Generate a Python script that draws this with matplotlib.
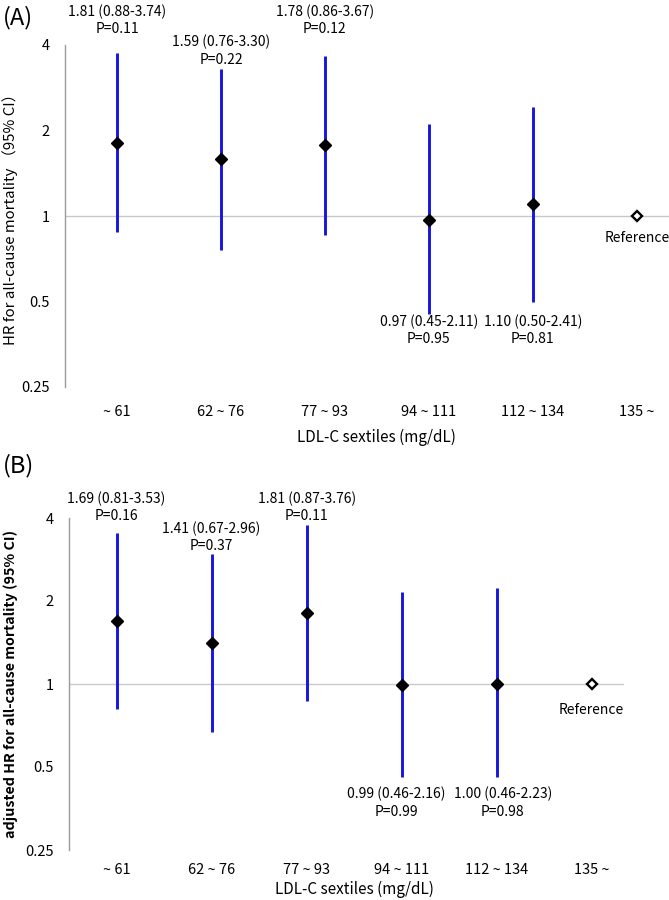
import matplotlib
matplotlib.use("Agg")
import matplotlib.pyplot as plt
import numpy as np

plt.rcParams['font.family'] = ['Noto Sans CJK JP', 'DejaVu Sans']

categories = ["~ 61", "62 ~ 76", "77 ~ 93", "94 ~ 111", "112 ~ 134", "135 ~"]

# Panel A: crude HR
hr_a = [1.81, 1.59, 1.78, 0.97, 1.10]
lo_a = [0.88, 0.76, 0.86, 0.45, 0.50]
hi_a = [3.74, 3.30, 3.67, 2.11, 2.41]
p_a = ["0.11", "0.22", "0.12", "0.95", "0.81"]

# Panel B: adjusted HR
hr_b = [1.69, 1.41, 1.81, 0.99, 1.00]
lo_b = [0.81, 0.67, 0.87, 0.46, 0.46]
hi_b = [3.53, 2.96, 3.76, 2.16, 2.23]
p_b = ["0.16", "0.37", "0.11", "0.99", "0.98"]

ref_value = 1.0
yticks = [0.25, 0.5, 1, 2, 4]
ytick_labels = ["0.25", "0.5", "1", "2", "4"]

# label placement style: 'top' row, 'near' the whisker, or 'below' row
label_rows = ['top', 'near', 'top', 'below', 'below']

W, H = 669, 900
fig = plt.figure(figsize=(W / 100, H / 100), dpi=100)

blue = "#1616dc"
txt_fs = 10


def panel(box, xlim, hr, lo, hi, pv, ylabel, ylabel_weight, letter, letter_top,
          top_row_px, near_gap, below_gap, ref_gap, xpad, xlabel_gap, nudges):
    left, right, top, bot = box
    ax = fig.add_axes([left / W, 1 - bot / H, (right - left) / W, (bot - top) / H])
    ax.set_yscale('log')
    ax.set_ylim(0.25, 4)
    ax.set_xlim(*xlim)
    for s in ['top', 'right', 'bottom']:
        ax.spines[s].set_visible(False)
    ax.spines['left'].set_color('#9a9a9a')
    ax.spines['left'].set_linewidth(1.0)
    ax.set_yticks(yticks)
    ax.set_yticklabels(ytick_labels, fontsize=10.5)
    ax.yaxis.set_minor_locator(matplotlib.ticker.NullLocator())
    ax.tick_params(axis='y', length=0, pad=11)
    ax.set_xticks(range(len(categories)))
    ax.set_xticklabels(categories, fontsize=10.5)
    ax.tick_params(axis='x', length=0, pad=xpad)
    ax.axhline(ref_value, color='#c8c8c8', lw=1.0, zorder=1)
    ax.set_ylabel(ylabel, fontsize=10.8 if ylabel_weight == 'normal' else 10.3,
                  fontweight=ylabel_weight)
    ax.yaxis.set_label_coords((18 - left) / (right - left), 0.5)
    ax.set_xlabel("LDL-C sextiles (mg/dL)", fontsize=11)
    ax.xaxis.set_label_coords((2.5 - xlim[0]) / (xlim[1] - xlim[0]),
                              -xlabel_gap / (bot - top))

    n = len(hr)
    x = np.arange(n)
    ax.vlines(x, lo, hi, color=blue, lw=2.1, zorder=2)
    ax.plot(x, hr, linestyle='none', marker='D', ms=6.2, color='black', zorder=3)
    ax.plot([n], [ref_value], linestyle='none', marker='D', ms=5,
            mfc='white', mec='black', mew=1.7, zorder=3)
    ax.annotate("Reference", xy=(n, ref_value), xytext=(0, -ref_gap),
                textcoords='offset points', ha='center', va='top', fontsize=txt_fs)

    fig.canvas.draw()
    below_idx = [i for i in range(n) if label_rows[i] == 'below']
    below_y = min(ax.transData.transform((0, lo[i]))[1] for i in below_idx) - below_gap
    for i in range(n):
        label = f"{hr[i]:.2f} ({lo[i]:.2f}-{hi[i]:.2f})\nP={pv[i]}"
        if label_rows[i] == 'below':
            xd = ax.transData.transform((i, lo[i]))[0]
            ytxt, va = below_y, 'top'
        elif label_rows[i] == 'top':
            xd = ax.transData.transform((i, hi[i]))[0]
            ytxt, va = H - top_row_px, 'bottom'
        else:
            xd, yd = ax.transData.transform((i, hi[i]))
            ytxt, va = yd + near_gap, 'bottom'
        ax.annotate(label, xy=(xd + nudges[i], ytxt), xycoords='figure pixels',
                    ha='center', va=va, fontsize=txt_fs, linespacing=1.3,
                    annotation_clip=False)
    fig.text(3 / W, 1 - letter_top / H, letter, fontsize=17, ha='left', va='center')
    return ax


# Panel A
panel((65, 669, 45, 387), (-0.5, 5.31), hr_a, lo_a, hi_a, p_a,
      "HR for all-cause mortality （95% CI）", 'normal', "(A)", 18,
      36, 2, 0, 11, 13, 42, [0, 0, 0, 0, 0])

# Panel B
panel((69, 624, 518, 850), (-0.5, 5.34), hr_b, lo_b, hi_b, p_b,
      "adjusted HR for all-cause mortality (95% CI)", 'bold', "(B)", 466,
      523, 1, 10, 14, 9, 31, [0, 0, 0, -5, 6])

fig.savefig("out.png", dpi=100)
